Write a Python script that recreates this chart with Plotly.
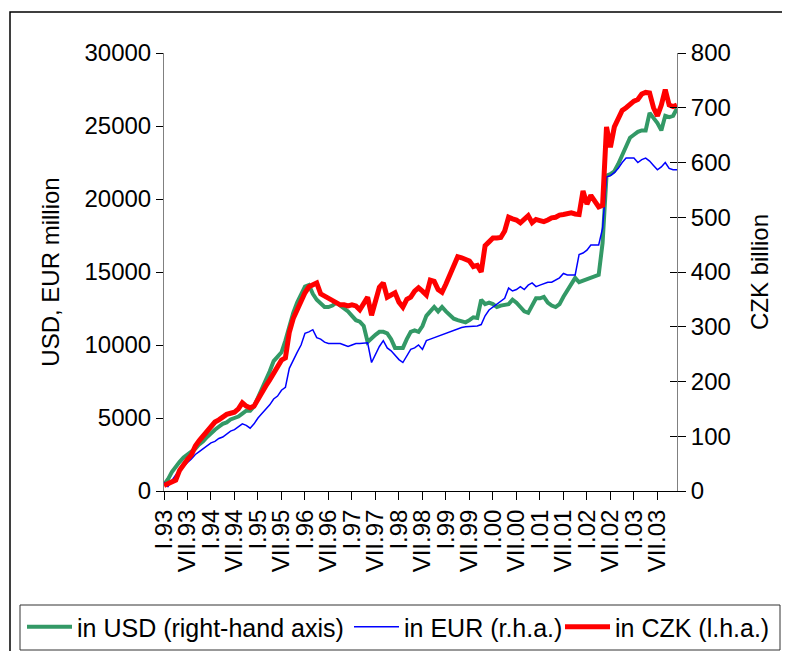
import plotly.graph_objects as go

years = ["93", "94", "95", "96", "97", "98", "99", "00", "01", "02", "03"]
tick_labels = []
for y in years:
    tick_labels += ["I." + y, "VII." + y]

# monthly observations I.93 - XII.03
usd_mn = [450, 800, 1300, 1700, 2000, 2300, 2500, 2700, 2900, 3200, 3400, 3700,
          4000, 4200, 4400, 4600, 4700, 4900, 5000, 5100, 5300, 5500, 5500, 5800,
          6400, 7000, 7500, 8200, 8900, 9200, 9500, 10300, 11300, 12200, 12900, 13500,
          14000, 14100, 13500, 13100, 12800, 12600, 12600, 12700, 12900, 12700, 12500, 12300,
          12000, 11700, 11600, 11300, 10200, 10500, 10700, 10900, 10900, 10800, 10400, 9800,
          9800, 9800, 10400, 10900, 11000, 10900, 11300, 12000, 12300, 12600, 12300, 12600,
          12300, 12000, 11800, 11700, 11600, 11550, 11700, 11900, 11850, 13100, 12800, 12900,
          12800, 12600, 12700, 12750, 12800, 13100, 12900, 12600, 12300, 12200, 12700, 13200,
          13200, 13300, 12900, 12700, 12600, 12800, 13300, 13700, 14200, 14600, 14300, 14400,
          14500, 14600, 14700, 14800, 17000, 21600, 21700, 21900, 22400, 23000, 23600, 24200,
          24400, 24600, 24700, 24700, 25900, 25600, 25200, 24700, 25700, 25600, 25700, 26200]

eur_mn = [600, 300, 700, 1100, 1400, 1700, 1950, 2200, 2500, 2700, 2900, 3100,
          3300, 3400, 3600, 3700, 3900, 4100, 4200, 4400, 4600, 4500, 4300, 4600,
          5000, 5300, 5600, 5900, 6300, 6500, 6900, 7100, 8400, 9000, 9500, 10000,
          10800, 10900, 11050, 10500, 10400, 10200, 10100, 10100, 10100, 10100, 10000, 9900,
          10000, 10100, 10100, 10100, 10150, 8800, 9400, 9900, 10300, 9800, 9600, 9300,
          9000, 8800, 9300, 9700, 9800, 10000, 9700, 10300, 10400, 10500, 10650, 10700,
          10850, 10900, 11000, 11100, 11200, 11250, 11250, 11300, 11300, 11400, 12000, 12400,
          12600, 12800, 13000, 13200, 13900, 13700, 13800, 14000, 13800, 14100, 14250, 14000,
          14100, 14200, 14300, 14300, 14450, 14600, 14900, 14800, 14800, 14800, 16200, 16300,
          16500, 16850, 16850, 16850, 18000, 21500, 21600, 21800, 22100, 22500, 22800, 22800,
          22800, 22500, 22700, 22800, 22600, 22300, 22000, 22200, 22500, 22100, 22000, 22000]

czk_bn = [10, 13, 15, 20, 38, 50, 58, 66, 82, 92, 100, 108,
          118, 126, 130, 135, 140, 142, 144, 150, 161, 155, 152, 155,
          168, 182, 192, 203, 216, 228, 239, 243, 290, 315, 331, 345,
          362, 373, 376, 380, 360, 356, 352, 349, 344, 340, 340, 338,
          340, 338, 331, 342, 354, 321, 350, 372, 380, 354, 358, 362,
          345, 336, 350, 354, 365, 371, 365, 358, 385, 383, 368, 363,
          378, 395, 412, 428, 426, 424, 420, 410, 412, 400, 448, 455,
          462, 462, 463, 475, 500, 497, 495, 490, 498, 503, 490, 496,
          494, 492, 495, 499, 500, 504, 505, 507, 508, 506, 505, 548,
          524, 540, 528, 519, 522, 665, 628, 665, 680, 695, 700, 706,
          712, 715, 725, 728, 727, 700, 685, 705, 733, 705, 702, 705]

x = list(range(len(czk_bn)))
tick_vals = list(range(0, len(czk_bn), 6))

FONT = "Liberation Sans, Arial, sans-serif"

fig = go.Figure()
fig.add_trace(go.Scatter(x=x, y=usd_mn, mode="lines", name="in USD (right-hand axis)",
                         line=dict(color="#339966", width=4), yaxis="y", legend="legend"))
fig.add_trace(go.Scatter(x=x, y=eur_mn, mode="lines", name="in EUR (r.h.a.)",
                         line=dict(color="#0000FF", width=1.5), yaxis="y", legend="legend2"))
fig.add_trace(go.Scatter(x=x, y=czk_bn, mode="lines", name="in CZK (l.h.a.)",
                         line=dict(color="#FF0000", width=5), yaxis="y2", legend="legend3"))

# paper coordinates of on-screen pixel positions (plot area 164..677 x 53..491)
def px(xp):
    return (xp - 164) / 513.0

def py(yp):
    return (491 - yp) / 438.0

def leg(xpix):
    return dict(orientation="h", x=px(xpix), xanchor="left", y=py(604), yanchor="top",
                font=dict(size=25, family=FONT), bgcolor="rgba(0,0,0,0)",
                borderwidth=0, itemwidth=45, tracegroupgap=0)

fig.update_layout(
    width=790, height=651, autosize=False,
    margin=dict(l=156, r=121, t=45, b=168, pad=0, autoexpand=False),
    paper_bgcolor="white", plot_bgcolor="white",
    font=dict(family=FONT, size=24, color="black"),
    showlegend=True,
    legend=leg(22),
    legend2=leg(349),
    legend3=leg(560),
    xaxis=dict(range=[0, len(czk_bn) - 1], tickvals=tick_vals, ticktext=tick_labels,
               tickangle=-90, ticks="outside", ticklen=8, tickcolor="black",
               showline=True, linecolor="black", linewidth=1, showgrid=False,
               zeroline=False, tickfont=dict(size=24), automargin=False),
    yaxis=dict(range=[0, 30000], tickvals=list(range(0, 30001, 5000)), tickformat="d",
               ticks="outside", ticklen=7, tickcolor="black", showline=True,
               linecolor="#808080", linewidth=1, showgrid=False, zeroline=False,
               title=dict(text="USD, EUR million", standoff=18, font=dict(size=24)),
               tickfont=dict(size=24), automargin=False),
    yaxis2=dict(range=[0, 800], tickvals=list(range(0, 801, 100)), overlaying="y",
                side="right", ticks="outside", ticklen=8, tickcolor="black",
                showline=True, linecolor="#808080", linewidth=1, showgrid=False,
                zeroline=False, title=dict(text="CZK billion", standoff=21, font=dict(size=24)),
                tickfont=dict(size=24), automargin=False),
    yaxis3=dict(range=[0, 800], tickvals=list(range(0, 801, 100)), overlaying="y",
                side="right", ticks="inside", ticklen=7, tickcolor="black",
                showticklabels=False, showline=False, showgrid=False, zeroline=False,
                automargin=False),
    shapes=[
        dict(type="rect", xref="paper", yref="paper", x0=px(10), x1=px(800),
             y0=py(12), y1=py(665), line=dict(color="black", width=1.5),
             fillcolor="rgba(0,0,0,0)", layer="below"),
        dict(type="rect", xref="paper", yref="paper", x0=px(20), x1=px(780),
             y0=py(605), y1=py(650), line=dict(color="#333333", width=1),
             fillcolor="rgba(0,0,0,0)", layer="below"),
    ],
)

fig.add_trace(go.Scatter(x=[0], y=[0], yaxis="y3", mode="markers",
                         marker=dict(opacity=0), showlegend=False, hoverinfo="skip"))

fig.write_html("out.html")
